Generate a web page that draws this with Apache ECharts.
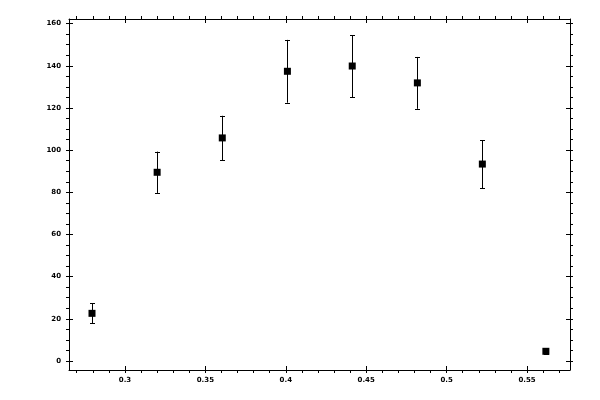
<!DOCTYPE html>
<html>
<head>
<meta charset="utf-8">
<script src="https://cdn.jsdelivr.net/npm/echarts@6/dist/echarts.min.js"></script>
<style>
  html, body { margin: 0; padding: 0; background: #fff; }
  #main { width: 600px; height: 400px; }
</style>
</head>
<body>
<div id="main"></div>
<script>
'use strict'

// measured points
var xs = [0.2795, 0.3200, 0.3605, 0.4010, 0.4413, 0.4818, 0.5222, 0.5617];
var ys = [22.6, 89.5, 105.8, 137.4, 139.9, 131.9, 93.4, 4.6];
var errs = [4.7, 9.8, 10.5, 14.9, 14.7, 12.3, 11.4, 1.5];

// ticks
var xMajor = [0.3, 0.35, 0.4, 0.45, 0.5, 0.55];
var xAll = [0.27, 0.28, 0.29, 0.3, 0.31, 0.32, 0.33, 0.34, 0.35, 0.36, 0.37, 0.38, 0.39, 0.4,
            0.41, 0.42, 0.43, 0.44, 0.45, 0.46, 0.47, 0.48, 0.49, 0.5, 0.51, 0.52, 0.53, 0.54,
            0.55, 0.56, 0.57];
var yMajor = [0, 20, 40, 60, 80, 100, 120, 140, 160];
var yAll = [0, 5, 10, 15, 20, 25, 30, 35, 40, 45, 50, 55, 60, 65, 70, 75, 80, 85, 90, 95, 100,
            105, 110, 115, 120, 125, 130, 135, 140, 145, 150, 155, 160];

var xMin = 0.2652, xMax = 0.5767;
var yMin = -4.27, yMax = 162.2;

var font = { fontFamily: 'DejaVu Sans', fontSize: 7, fontWeight: 'bold', color: '#000' };

function xAxisDef(pos, labels, inner) {
    return {
        type: 'value', position: pos, min: xMin, max: xMax,
        axisLine: { show: !inner, onZero: false, lineStyle: { color: '#000', width: 1 } },
        axisTick: {
            show: true, inside: inner, length: inner ? 4 : 3,
            customValues: inner ? xMajor : xAll,
            lineStyle: { color: '#000', width: 1 }
        },
        axisLabel: Object.assign({ show: labels, margin: 7, customValues: xMajor,
            formatter: function (v) { return String(+v.toFixed(2)); } }, font),
        splitLine: { show: false }
    };
}

function yAxisDef(pos, labels, inner) {
    return {
        type: 'value', position: pos, min: yMin, max: yMax,
        axisLine: { show: !inner, onZero: false, lineStyle: { color: '#000', width: 1 } },
        axisTick: {
            show: true, inside: inner, length: inner ? 4 : 3,
            customValues: inner ? yMajor : yAll,
            lineStyle: { color: '#000', width: 1 }
        },
        axisLabel: Object.assign({ show: labels, margin: 8, customValues: yMajor }, font),
        splitLine: { show: false }
    };
}

var points = xs.map(function (x, i) { return [x, ys[i], errs[i]]; });

var option = {
    backgroundColor: '#fff',
    animation: false,
    grid: { left: 69, right: 30, top: 19, bottom: 30 },
    xAxis: [
        xAxisDef('bottom', true, false),
        xAxisDef('bottom', false, true),
        xAxisDef('top', false, false),
        xAxisDef('top', false, true)
    ],
    yAxis: [
        yAxisDef('left', true, false),
        yAxisDef('left', false, true),
        yAxisDef('right', false, false),
        yAxisDef('right', false, true)
    ],
    series: [
        {
            type: 'custom',
            xAxisIndex: 0,
            yAxisIndex: 0,
            data: points,
            z: 2,
            renderItem: function (params, api) {
                var x = api.value(0), y = api.value(1), e = api.value(2);
                var top = api.coord([x, y + e]);
                var bot = api.coord([x, y - e]);
                var cx = Math.round(top[0]) + 0.5;
                var cap = 2.5;
                var st = { stroke: '#000', lineWidth: 1 };
                return {
                    type: 'group',
                    children: [
                        { type: 'line', shape: { x1: cx, y1: top[1], x2: cx, y2: bot[1] }, style: st },
                        { type: 'line', shape: { x1: cx - cap, y1: Math.round(top[1]) + 0.5, x2: cx + cap, y2: Math.round(top[1]) + 0.5 }, style: st },
                        { type: 'line', shape: { x1: cx - cap, y1: Math.round(bot[1]) + 0.5, x2: cx + cap, y2: Math.round(bot[1]) + 0.5 }, style: st }
                    ]
                };
            }
        },
        {
            type: 'scatter',
            xAxisIndex: 0,
            yAxisIndex: 0,
            z: 3,
            symbol: 'rect',
            symbolSize: 7,
            itemStyle: { color: '#000', opacity: 1 },
            data: points.map(function (p) { return [p[0], p[1]]; })
        }
    ]
};

var chart = echarts.init(document.getElementById('main'));
chart.setOption(option);
</script>
</body>
</html>
